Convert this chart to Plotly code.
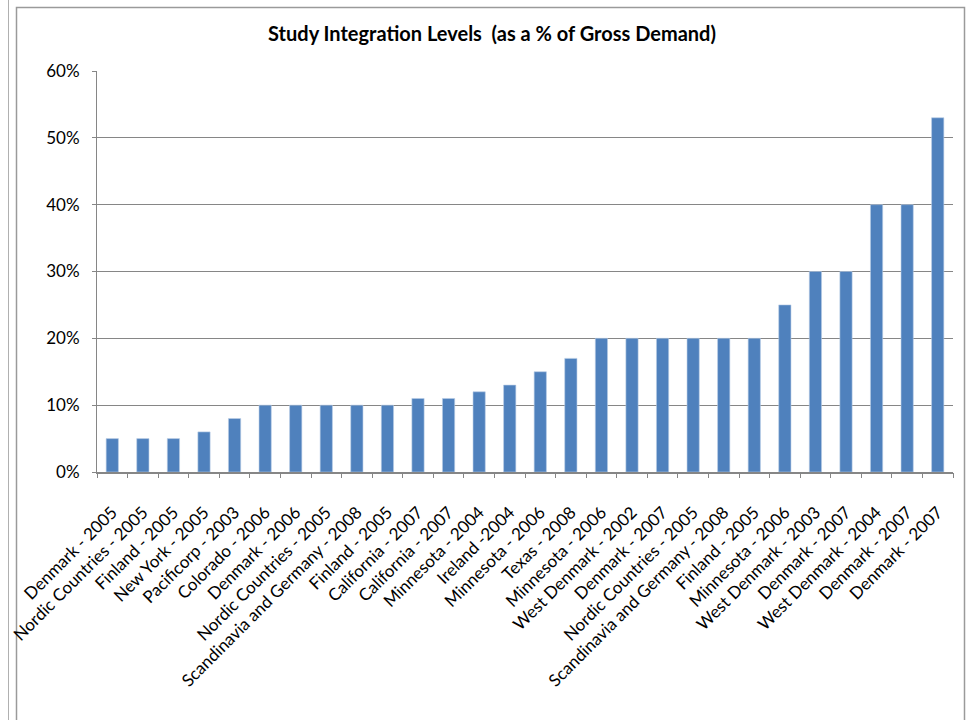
import plotly.graph_objects as go

categories = [
    "Denmark - 2005", "Nordic Countries - 2005", "Finland - 2005", "New York - 2005",
    "Pacificorp - 2003", "Colorado - 2006", "Denmark - 2006", "Nordic Countries - 2005",
    "Scandinavia and Germany - 2008", "Finland - 2005", "California - 2007", "California - 2007",
    "Minnesota - 2004", "Ireland -2004", "Minnesota - 2006", "Texas - 2008",
    "Minnesota - 2006", "West Denmark - 2002", "Denmark - 2007", "Nordic Countries - 2005",
    "Scandinavia and Germany - 2008", "Finland - 2005", "Minnesota - 2006", "West Denmark - 2003",
    "Denmark - 2007", "West Denmark - 2004", "Denmark - 2007", "Denmark - 2007",
]
values = [5, 5, 5, 6, 8, 10, 10, 10, 10, 10, 11, 11, 12, 13, 15, 17,
          20, 20, 20, 20, 20, 20, 25, 30, 30, 40, 40, 53]
y_ticks = [0, 10, 20, 30, 40, 50, 60]
y_tick_labels = ["0%", "10%", "20%", "30%", "40%", "50%", "60%"]

W, H = 971, 720
L, R, T, B = 97, 18, 71, 248
PW, PH = W - L - R, H - T - B
FONT = "Lato, 'Open Sans', sans-serif"
GRID = "#868686"

idx = list(range(len(categories)))

fig = go.Figure()
fig.add_trace(go.Bar(
    x=idx, y=values, width=0.4,
    marker=dict(color="#4F81BD", line=dict(color="#B9CDE5", width=0.6)),
    hoverinfo="skip",
))
# invisible trace to activate boundary ticks axis
fig.add_trace(go.Scatter(x=[-0.5], y=[0], xaxis="x2", mode="markers",
                         marker=dict(opacity=0), hoverinfo="skip", showlegend=False))

def px(x):
    return (x - L) / PW

def py(y):
    return (H - B - y) / PH

shapes = [
    dict(type="rect", xref="paper", yref="paper",
         x0=px(16.5), x1=px(964.5), y0=py(725), y1=py(7.5),
         line=dict(color="#9A9A9A", width=1.5), layer="below"),
    dict(type="line", xref="paper", yref="paper",
         x0=px(8.5), x1=px(8.5), y0=py(0), y1=py(720),
         line=dict(color="#B0B0B0", width=1), layer="below"),
]

fig.update_layout(
    width=W, height=H,
    margin=dict(l=L, r=R, t=T, b=B, pad=0, autoexpand=False),
    paper_bgcolor="white", plot_bgcolor="white",
    showlegend=False,
    font=dict(family=FONT, color="black", size=17),
    title=dict(text="<b>Study Integration Levels  (as a % of Gross Demand)</b>",
               x=492 / W, xanchor="center", y=1 - 34 / H, yanchor="middle",
               font=dict(family=FONT, size=20, color="black")),
    xaxis=dict(
        range=[-0.5, len(categories) - 0.5], automargin=False,
        tickmode="array", tickvals=idx, ticktext=categories,
        tickangle=-45, ticks="", showgrid=False, zeroline=False,
        showline=True, linecolor=GRID, linewidth=1.5,
        tickfont=dict(family=FONT, size=17, color="black"),
        ticklabelstandoff=22,
    ),
    xaxis2=dict(
        range=[-0.5, len(categories) - 0.5], overlaying="x", side="bottom",
        automargin=False,
        tickmode="array", tickvals=[i - 0.5 for i in range(len(categories) + 1)],
        ticks="outside", ticklen=5, tickcolor=GRID, tickwidth=1,
        showticklabels=False, showgrid=False, zeroline=False, showline=False,
    ),
    yaxis=dict(
        range=[0, 60], tickmode="array", tickvals=y_ticks, ticktext=y_tick_labels,
        automargin=False,
        showgrid=True, gridcolor=GRID, gridwidth=1,
        showline=True, linecolor=GRID, linewidth=1,
        ticks="outside", ticklen=4, tickcolor=GRID,
        zeroline=False,
        tickfont=dict(family=FONT, size=17, color="black"),
        ticklabelstandoff=9,
    ),
    shapes=shapes,
)

fig.write_html("out.html")
